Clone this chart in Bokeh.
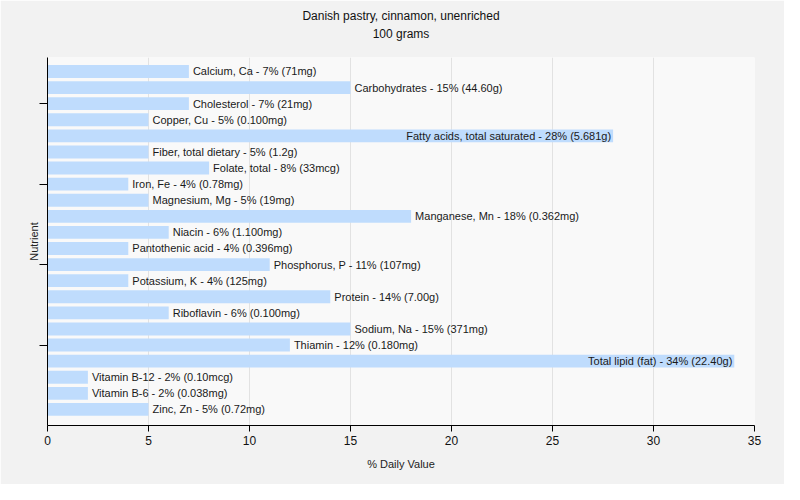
from bokeh.plotting import figure
from bokeh.models import ColumnDataSource, FixedTicker, Title
from bokeh.core.properties import value
from bokeh.embed import file_html
from bokeh.resources import INLINE

title_line1 = "Danish pastry, cinnamon, unenriched"
title_line2 = "100 grams"
x_label = "% Daily Value"
y_label = "Nutrient"

nutrients = [
    "Calcium, Ca", "Carbohydrates", "Cholesterol", "Copper, Cu",
    "Fatty acids, total saturated", "Fiber, total dietary", "Folate, total",
    "Iron, Fe", "Magnesium, Mg", "Manganese, Mn", "Niacin", "Pantothenic acid",
    "Phosphorus, P", "Potassium, K", "Protein", "Riboflavin", "Sodium, Na",
    "Thiamin", "Total lipid (fat)", "Vitamin B-12", "Vitamin B-6", "Zinc, Zn",
]
daily_pct = [7, 15, 7, 5, 28, 5, 8, 4, 5, 18, 6, 4, 11, 4, 14, 6, 15, 12, 34, 2, 2, 5]
amounts = [
    "71mg", "44.60g", "21mg", "0.100mg", "5.681g", "1.2g", "33mcg", "0.78mg",
    "19mg", "0.362mg", "1.100mg", "0.396mg", "107mg", "125mg", "7.00g",
    "0.100mg", "371mg", "0.180mg", "22.40g", "0.10mcg", "0.038mg", "0.72mg",
]
x_ticks = [0, 5, 10, 15, 20, 25, 30, 35]
y_ticks = [4, 9, 14, 19]

XMAX = 35
n = len(nutrients)
ypos = [n - 1 - i for i in range(n)]
labels = [f"{nm} - {v}% ({a})" for nm, v, a in zip(nutrients, daily_pct, amounts)]

inside = [v + len(t) * 0.27 + 0.3 > XMAX for v, t in zip(daily_pct, labels)]
out_src = ColumnDataSource(dict(
    x=[v for v, f in zip(daily_pct, inside) if not f],
    y=[y for y, f in zip(ypos, inside) if not f],
    t=[t for t, f in zip(labels, inside) if not f]))
in_src = ColumnDataSource(dict(
    x=[v for v, f in zip(daily_pct, inside) if f],
    y=[y for y, f in zip(ypos, inside) if f],
    t=[t for t, f in zip(labels, inside) if f]))
bar_src = ColumnDataSource(dict(y=ypos, right=daily_pct))

FW, FH = 707, 368
p = figure(width=784, height=484, output_backend="svg", toolbar_location=None,
           x_range=(0, XMAX), y_range=(-1.0, n - 1 + 0.87),
           min_border_left=47, min_border_right=30, min_border_top=57,
           min_border_bottom=59, frame_width=FW, frame_height=FH)
p.border_fill_color = "#F2F2F2"
p.background_fill_color = "#F9F9F9"
p.outline_line_color = None

p.hbar(y="y", left=0, right="right", height=0.8, source=bar_src,
       fill_color="#BFDCFD", line_color=None)

font = value("Liberation Sans")
p.text(x="x", y="y", text="t", source=out_src, x_offset=4,
       text_align="left", text_baseline="middle", text_font=font,
       text_font_size="11px", text_color="#1a1a1a")
p.text(x="x", y="y", text="t", source=in_src, x_offset=-2,
       text_align="right", text_baseline="middle", text_font=font,
       text_font_size="11px", text_color="#1a1a1a")

xa = p.xaxis[0]
xa.ticker = FixedTicker(ticks=x_ticks)
xa.minor_tick_line_color = None
xa.major_tick_out = 6
xa.major_tick_in = 0
xa.axis_line_color = "black"
xa.major_label_text_font = "Liberation Sans"
xa.major_label_text_font_size = "12px"
xa.major_label_text_color = "#111"
xa.major_label_standoff = 4
xa.axis_label = x_label
xa.axis_label_text_font = "Liberation Sans"
xa.axis_label_text_font_size = "11px"
xa.axis_label_text_font_style = "normal"
xa.axis_label_text_color = "#222"
xa.axis_label_standoff = 10

ya = p.yaxis[0]
ya.ticker = FixedTicker(ticks=y_ticks)
ya.minor_tick_line_color = None
ya.major_tick_out = 8
ya.major_tick_in = 0
ya.major_label_overrides = {t: "" for t in y_ticks}
ya.major_label_text_font_size = "11px"
ya.major_label_standoff = 0
ya.axis_line_color = "black"
ya.axis_label = y_label
ya.axis_label_text_font = "Liberation Sans"
ya.axis_label_text_font_size = "11px"
ya.axis_label_text_font_style = "normal"
ya.axis_label_text_color = "#222"
ya.axis_label_standoff = 0

p.xgrid.ticker = FixedTicker(ticks=x_ticks)
p.xgrid.grid_line_color = "#E2E2E2"
p.ygrid.grid_line_color = None

title_style = dict(align="center", text_font="Liberation Sans", text_font_size="12px",
                   text_font_style="normal", text_color="#111")
p.add_layout(Title(text=title_line2, standoff=34, **title_style), "above")
p.add_layout(Title(text=title_line1, standoff=-30, **title_style), "above")

open("out.html", "w").write(file_html(p, INLINE))
